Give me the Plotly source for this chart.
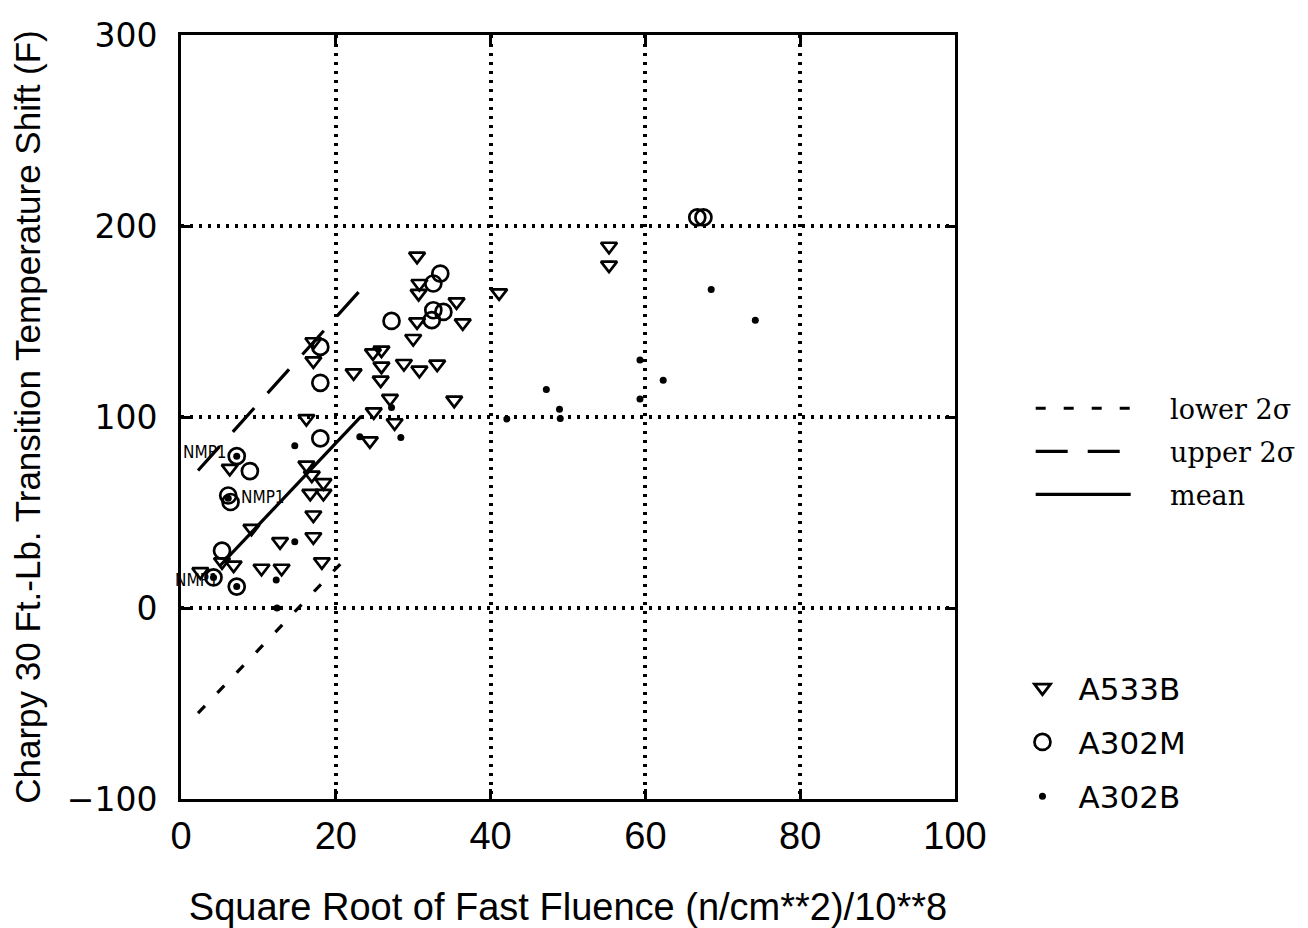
import plotly.graph_objects as go

# ---------------- data ----------------
a533b_x = [17.1, 17.1, 16.2, 6.3, 16.2, 16.9, 18.4, 16.7, 18.4, 17.1, 9.1, 17.1, 12.8, 5.3, 6.8, 18.2,
           10.4, 13.0, 2.5, 30.5, 30.8, 30.7, 41.1, 35.6, 30.5, 36.4, 30.0, 24.8, 25.9, 25.9, 28.8,
           30.8, 33.1, 22.3, 25.8, 27.0, 35.3, 24.9, 27.6, 24.4, 55.3, 55.3]
a533b_y = [139.4, 129.4, 99.2, 73.1, 74.8, 69.6, 65.6, 60.0, 60.0, 48.7, 41.7, 37.3, 34.7, 24.2, 22.5, 24.2,
           20.8, 20.8, 19.0, 184.2, 169.9, 164.7, 165.0, 160.3, 149.8, 149.3, 141.1, 133.6, 135.0, 126.6, 128.0,
           124.5, 127.7, 123.1, 119.3, 109.7, 108.8, 102.7, 97.0, 87.5, 189.4, 179.5]

a302m_x = [18.0, 18.0, 18.0, 7.2, 8.9, 6.1, 6.4, 5.3, 4.2, 7.2, 33.5, 32.6, 32.6, 33.9, 32.4, 27.2, 66.7, 67.5]
a302m_y = [136.7, 117.9, 88.8, 79.5, 71.7, 58.9, 55.5, 30.0, 16.0, 11.2, 175.1, 169.9, 155.9, 155.0, 150.7, 150.3, 204.5, 204.5]

a302b_x = [14.7, 14.7, 12.3, 12.4, 7.2, 6.1, 7.2, 4.2, 27.2, 23.1, 28.4, 42.1, 68.5, 74.2, 59.3, 62.3, 59.3, 47.2, 48.9, 49.0]
a302b_y = [84.9, 34.7, 14.7, 0.0, 79.5, 57.4, 11.2, 16.0, 105.0, 89.6, 89.3, 99.0, 166.8, 150.7, 129.8, 119.3, 109.4, 114.4, 104.1, 99.2]

lower_x = [2.2, 22.1]
lower_y = [-55.0, 29.5]
upper_x = [2.2, 23.3]
upper_y = [72.0, 167.0]
mean_x = [5.0, 23.3]
mean_y = [22.0, 100.5]

label_text = ["NMP1", "NMP1", "NMP1"]
label_x = [3.1, 10.6, 2.1]
label_y = [81.6, 58.0, 14.7]

x_ticks = [0, 20, 40, 60, 80, 100]
y_ticks = [-100, 0, 100, 200, 300]

x_title = "Square Root of Fast Fluence (n/cm**2)/10**8"
y_title = "Charpy 30 Ft.-Lb. Transition Temperature Shift (F)"

NB = "\u00a0"

# ---------------- figure ----------------
fig = go.Figure()

fig.add_trace(go.Scatter(x=lower_x, y=lower_y, mode="lines", name=NB * 4 + "lower 2σ",
                         line=dict(color="black", width=3.2, dash="10px,18px"),
                         legend="legend", legendgroup="l1"))
fig.add_trace(go.Scatter(x=upper_x, y=upper_y, mode="lines", name=NB * 4 + "upper 2σ",
                         line=dict(color="black", width=3.2, dash="32px,20px"),
                         legend="legend", legendgroup="l2"))
fig.add_trace(go.Scatter(x=mean_x, y=mean_y, mode="lines", name=NB * 4 + "mean",
                         line=dict(color="black", width=3.2),
                         legend="legend", legendgroup="l3"))

fig.add_trace(go.Scatter(x=a533b_x, y=a533b_y, mode="markers", name=NB + "\u2009" + "A533B",
                         marker=dict(symbol="triangle-down-open", size=14, color="black",
                                     line=dict(width=2.7, color="black")),
                         legend="legend2", legendgroup="m1"))
fig.add_trace(go.Scatter(x=a302m_x, y=a302m_y, mode="markers", name=NB + "\u2009" + "A302M",
                         marker=dict(symbol="circle-open", size=16, color="black",
                                     line=dict(width=2.7, color="black")),
                         legend="legend2", legendgroup="m2"))
fig.add_trace(go.Scatter(x=a302b_x, y=a302b_y, mode="markers", name=NB + "\u2009" + "A302B",
                         marker=dict(symbol="circle", size=7, color="black"),
                         legend="legend2", legendgroup="m3"))

for t, x, y in zip(label_text, label_x, label_y):
    fig.add_annotation(x=x, y=y, text=t, showarrow=False,
                       font=dict(family="Liberation Sans Narrow, DejaVu Sans Condensed, Liberation Sans",
                                 size=17, color="black"))

axis_common = dict(
    showline=True, linecolor="black", linewidth=3, mirror="allticks",
    ticks="inside", ticklen=10, tickwidth=3, tickcolor="black",
    showgrid=True, gridcolor="black", gridwidth=3.5, griddash="3px,6px",
    zeroline=False, automargin=False,
)

fig.update_xaxes(range=[0, 100], tickvals=x_ticks, ticktext=[str(v) for v in x_ticks],
                 ticklabelstandoff=1,
                 tickfont=dict(family="Liberation Sans, Arial", size=38, color="black"),
                 title=dict(text=x_title, standoff=55,
                            font=dict(family="Liberation Sans, Arial", size=38, color="black")),
                 **axis_common)
fig.update_yaxes(range=[-100, 300], tickvals=y_ticks,
                 ticktext=["\u2212100" if v < 0 else str(v) for v in y_ticks],
                 ticklabelstandoff=14,
                 tickfont=dict(family="DejaVu Sans", size=33, color="black"),
                 title=dict(text=y_title, standoff=16,
                            font=dict(family="Liberation Sans Narrow, Liberation Sans, Arial", size=35, color="black")),
                 **axis_common)

fig.update_layout(
    width=1308, height=928,
    margin=dict(l=181, r=353, t=35, b=129, pad=0),
    paper_bgcolor="white", plot_bgcolor="white",
    showlegend=True,
    legend=dict(xref="container", yref="container", x=0.788, y=0.586,
                xanchor="left", yanchor="top",
                font=dict(family="DejaVu Serif", size=27, color="black"),
                itemwidth=95, tracegroupgap=5, bgcolor="rgba(0,0,0,0)"),
    legend2=dict(xref="container", yref="container", x=0.7817, y=0.2877,
                 xanchor="left", yanchor="top",
                 font=dict(family="DejaVu Sans", size=31, color="black"),
                 itemwidth=30, tracegroupgap=11, bgcolor="rgba(0,0,0,0)"),
)

fig.write_html("out.html")
